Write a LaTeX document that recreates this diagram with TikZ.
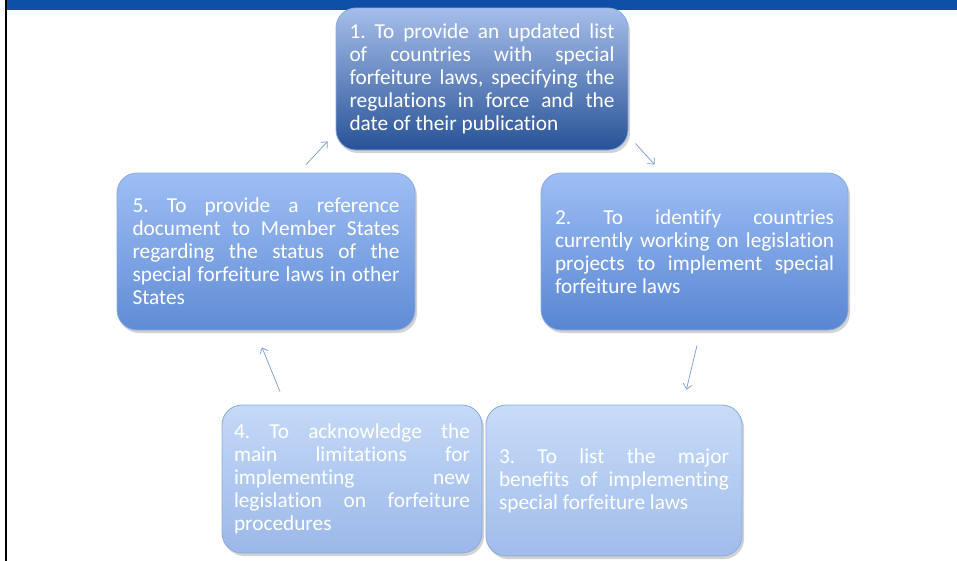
\documentclass[tikz,border=0pt]{standalone}
\usepackage{fontspec}
\setmainfont{Carlito}[Ligatures=NoCommon]
\usepackage{xcolor}
\usepackage{tikz}
\usetikzlibrary{shadows,arrows.meta}

\definecolor{barblue}{RGB}{13,78,166}
\definecolor{arrowblue}{RGB}{120,155,210}
\definecolor{edgeblue}{RGB}{140,170,220}
% box shades, top to bottom
\definecolor{oneTop}{RGB}{165,190,234}
\definecolor{oneBot}{RGB}{40,82,150}
\definecolor{twoTop}{RGB}{158,190,245}
\definecolor{twoBot}{RGB}{88,134,210}
\definecolor{lowTop}{RGB}{200,220,248}
\definecolor{lowBot}{RGB}{160,188,234}

\begin{document}
\frenchspacing
\begin{tikzpicture}[x=1pt, y=-1pt,
  goal/.style={rounded corners=20pt, draw=edgeblue, line width=0.8pt,
    drop shadow={opacity=0.35, shadow xshift=2pt, shadow yshift=-3pt},
    text=white, align=justify, inner sep=0pt,
    font=\fontsize{21.3}{23}\selectfont},
  flow/.style={draw=arrowblue, line width=0.7pt, -{Straight Barb[length=5pt, width=9pt]}}]
\useasboundingbox (0,0) rectangle (957,560);
\fill[white] (0,0) rectangle (957,560);
\fill[barblue] (6,0) rectangle (957,10);
\draw[black, line width=2pt] (6,0) -- (6,562);

\node[goal, top color=oneTop, bottom color=oneBot, minimum width=292pt, minimum height=142pt, text width=265pt] (b1) at (482,79)
  {1. To provide an updated list\linebreak of countries with special\linebreak forfeiture laws, specifying the\linebreak regulations in force and the\linebreak date of their publication};
\node[goal, top color=twoTop, bottom color=twoBot, minimum width=307pt, minimum height=157pt, text width=279pt] (b2) at (694.5,251.5)
  {2. To identify countries\linebreak currently working on legislation\linebreak projects to implement special\linebreak forfeiture laws};
\node[goal, top color=lowTop, bottom color=lowBot, minimum width=256pt, minimum height=151pt, text width=230pt] (b3) at (614,480.5)
  {3. To list the major\linebreak benefits of implementing\linebreak special forfeiture laws};
\node[goal, top color=lowTop!92!twoTop, bottom color=lowBot!92!twoBot, minimum width=260pt, minimum height=148pt, text width=236pt] (b4) at (352,479)
  {4. To acknowledge the\linebreak main limitations for\linebreak implementing new\linebreak legislation on forfeiture\linebreak procedures};
\node[goal, top color=twoTop, bottom color=twoBot!95!white, minimum width=298pt, minimum height=157pt, text width=267pt] (b5) at (266,251.5)
  {5. To provide a reference\linebreak document to Member States\linebreak regarding the status of the\linebreak special forfeiture laws in other\linebreak States};

% arrow ends
\coordinate (s12) at ([shift={(7,-7)}]b1.south east);
\coordinate (t12) at ([shift={(-40,-8)}]b2.north);
\coordinate (s23) at ([shift={(2.5,15)}]b2.south);
\coordinate (t23) at ([shift={(-56,-15)}]b3.north east);
\coordinate (s45) at ([shift={(-72,-13)}]b4.north);
\coordinate (t45) at ([shift={(-4,17)}]b5.south);
\coordinate (s51) at ([shift={(40,-8)}]b5.north);
\coordinate (t51) at ([shift={(-8,-9)}]b1.south west);

\draw[flow] (s12) -- (t12);
\draw[flow] (s23) -- (t23);
\draw[flow] (s45) -- (t45);
\draw[flow] (s51) -- (t51);
\end{tikzpicture}
\end{document}
